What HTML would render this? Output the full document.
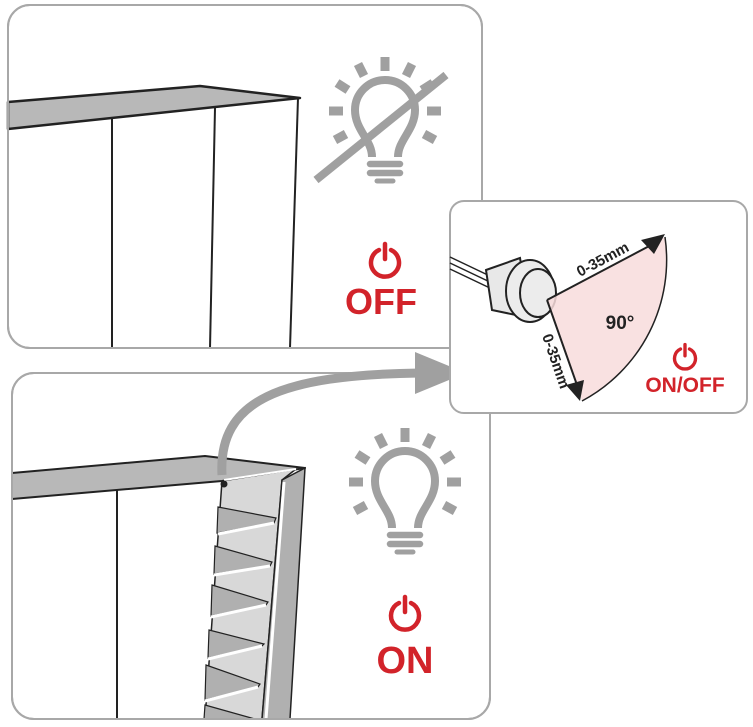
<!DOCTYPE html>
<html><head><style>body{margin:0;background:#fff}svg{display:block}</style></head><body>
<svg width="753" height="727" viewBox="0 0 753 727" xmlns="http://www.w3.org/2000/svg" font-family="Liberation Sans, sans-serif">
<defs>
<g id="bulb" fill="none" stroke="#a0a0a0">
 <path d="M-13,42 C-13,25 -30,15 -30,-5 A30,30 0 1 1 30,-5 C30,15 13,25 13,42" stroke-width="8"/>
 <line x1="-15" y1="49" x2="15" y2="49" stroke-width="6.5" stroke-linecap="round"/>
 <line x1="-15" y1="58" x2="15" y2="58" stroke-width="6.5" stroke-linecap="round"/>
 <line x1="-8" y1="66" x2="8" y2="66" stroke-width="5" stroke-linecap="round"/>
 <g stroke-width="9">
  <line x1="0" y1="-58" x2="0" y2="-44"/>
  <line x1="-27" y1="-51" x2="-21" y2="-39" /><line x1="27" y1="-51" x2="21" y2="-39"/>
  <line x1="-48" y1="-32" x2="-37" y2="-25"/><line x1="48" y1="-32" x2="37" y2="-25"/>
  <line x1="-56" y1="-4" x2="-42" y2="-4"/><line x1="56" y1="-4" x2="42" y2="-4"/>
  <line x1="-50" y1="25" x2="-39" y2="19"/><line x1="50" y1="25" x2="39" y2="19"/>
 </g>
</g>
<g id="pwr" fill="none" stroke="#d2232a" stroke-width="4.5" stroke-linecap="round">
 <path d="M-6,-12 A14,14 0 1 0 6,-12"/><line x1="0" y1="-18" x2="0" y2="-3"/>
</g>
</defs>
<rect x="8" y="5" width="474" height="343" rx="22" fill="#fff" stroke="#a8a8a8" stroke-width="2"/>
<polygon points="8,102 200,86 300,98 8,129" fill="#b8b8b8" stroke="#222" stroke-width="2.5" stroke-linejoin="round"/>
<g stroke="#222" stroke-width="2" fill="none">
<line x1="112" y1="118" x2="112" y2="348"/>
<line x1="215" y1="108" x2="210" y2="348"/>
<line x1="298" y1="98" x2="290" y2="348"/>
</g>
<rect x="8" y="5" width="474" height="343" rx="22" fill="none" stroke="#a8a8a8" stroke-width="2"/>
<use href="#bulb" x="385" y="115"/>
<line x1="316" y1="180" x2="446" y2="75" stroke="#a0a0a0" stroke-width="8"/>
<use href="#pwr" x="385" y="262"/>
<text x="381" y="314" font-size="36" font-weight="bold" fill="#d2232a" text-anchor="middle">OFF</text>

<rect x="12" y="373" width="478" height="346" rx="22" fill="#fff" stroke="#a8a8a8" stroke-width="2"/>
<polygon points="12,473 205,456 305,468 222,481 12,499" fill="#b8b8b8" stroke="#222" stroke-width="2" stroke-linejoin="round"/>
<line x1="117" y1="490" x2="117" y2="719" stroke="#222" stroke-width="2"/>
<polygon points="222,481 296,469 282,480 262,719 205,719" fill="#d8d8d8" stroke="#222" stroke-width="1.5"/>
<g stroke="#222" stroke-width="1.2" fill="#b0b0b0">
<polygon points="218,507 276,518 274,523 217,533"/>
<polygon points="215,546 272,562 270,566 214,574"/>
<polygon points="212,585 268,602 266,605 211,616"/>
<polygon points="209,630 264,644 262,646 208,658"/>
<polygon points="206,665 260,684 258,687 205,700"/>
<polygon points="205,705 255,719 204,719"/>
</g>
<g stroke="#fff" stroke-width="3">
<line x1="218" y1="534" x2="274" y2="523"/><line x1="214" y1="575" x2="270" y2="566"/>
<line x1="211" y1="617" x2="266" y2="605"/><line x1="208" y1="659" x2="262" y2="646"/>
<line x1="205" y1="701" x2="258" y2="687"/>
</g>
<polygon points="282,480 305,468 290,719 262,719" fill="#b0b0b0" stroke="#222" stroke-width="1.5"/>
<line x1="284" y1="482" x2="266" y2="719" stroke="#fff" stroke-width="3"/>
<line x1="224" y1="480" x2="296" y2="469" stroke="#fff" stroke-width="2"/>
<rect x="12" y="373" width="478" height="346" rx="22" fill="none" stroke="#a8a8a8" stroke-width="2"/>
<path d="M222,475 C218,400 280,375 420,373" fill="none" stroke="#a0a0a0" stroke-width="9"/>
<polygon points="415,352 466,373 415,394" fill="#a0a0a0"/>
<circle cx="224" cy="484" r="3.5" fill="#222"/>
<use href="#bulb" x="405" y="486"/>
<use href="#pwr" x="405" y="615"/>
<text x="405" y="673" font-size="38" font-weight="bold" fill="#d2232a" text-anchor="middle">ON</text>

<rect x="450" y="201" width="297" height="212" rx="14" fill="#fff" stroke="#a8a8a8" stroke-width="2"/>
<g stroke="#222" stroke-width="1.5">
<line x1="450" y1="257" x2="492" y2="277"/><line x1="450" y1="263" x2="492" y2="283"/><line x1="450" y1="269" x2="492" y2="289"/>
</g>
<path d="M486,270 L520,258 L530,318 L492,310 Z" fill="#e8e8e8" stroke="#222" stroke-width="2"/>
<ellipse cx="530" cy="291" rx="24" ry="31" fill="#ececec" stroke="#222" stroke-width="2"/>
<ellipse cx="538" cy="293" rx="18" ry="24" fill="#ececec" stroke="#222" stroke-width="2"/>
<path d="M547,300 L665,237 A160,160 0 0 1 582,401 Z" fill="#f8dcdc" fill-opacity="0.85" stroke="none"/>
<path d="M665,237 A160,160 0 0 1 582,401" fill="none" stroke="#222" stroke-width="1.5"/>
<line x1="547" y1="300" x2="655" y2="243" stroke="#222" stroke-width="2"/>
<line x1="547" y1="300" x2="577" y2="385" stroke="#222" stroke-width="2"/>
<polygon points="641,240 665,234 654,254" fill="#222"/>
<polygon points="566,385 584,380 580,401" fill="#222"/>
<text x="0" y="0" font-size="15" font-weight="bold" fill="#222" transform="translate(580,277) rotate(-28)">0-35mm</text>
<text x="0" y="0" font-size="15" font-weight="bold" fill="#222" transform="translate(542,336) rotate(71)">0-35mm</text>
<text x="620" y="329" font-size="19" font-weight="bold" fill="#222" text-anchor="middle">90°</text>
<g transform="translate(685,358) scale(0.75)"><use href="#pwr"/></g>
<text x="685" y="392" font-size="21" font-weight="bold" fill="#d2232a" text-anchor="middle">ON/OFF</text>
</svg>
</body></html>
